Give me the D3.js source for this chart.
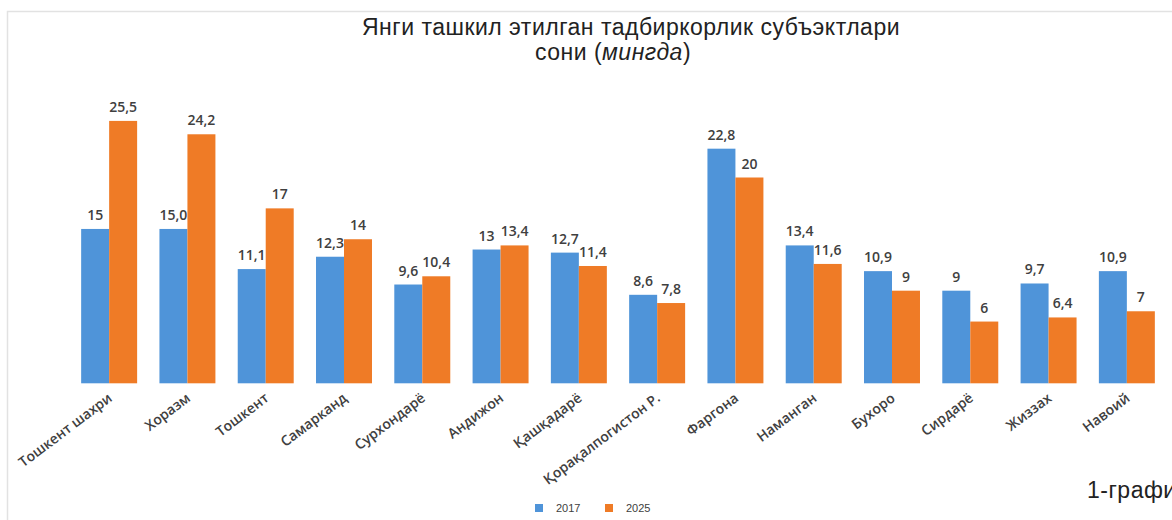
<!DOCTYPE html>
<html><head><meta charset="utf-8">
<script src="https://cdn.jsdelivr.net/npm/d3@7"></script>
<style>html,body{margin:0;padding:0;background:#fff;overflow:hidden}</style>
</head><body><svg id="c" width="1172" height="520"></svg>
<script>
const categories = ["Тошкент шахри","Хоразм","Тошкент","Самарканд","Сурхондарё","Андижон","Қашқадарё","Қорақалпогистон Р.","Фаргона","Наманган","Бухоро","Сирдарё","Жиззах","Навоий"];
const values2017 = [15, 15.0, 11.1, 12.3, 9.6, 13, 12.7, 8.6, 22.8, 13.4, 10.9, 9, 9.7, 10.9];
const values2025 = [25.5, 24.2, 17, 14, 10.4, 13.4, 11.4, 7.8, 20, 11.6, 9, 6, 6.4, 7];
const labels2017 = ["15","15,0","11,1","12,3","9,6","13","12,7","8,6","22,8","13,4","10,9","9","9,7","10,9"];
const labels2025 = ["25,5","24,2","17","14","10,4","13,4","11,4","7,8","20","11,6","9","6","6,4","7"];
const seriesNames = ["2017","2025"];
const colors = ["#4F94D9","#EF7B26"];

const svg = d3.select("#c");
// faint frame
svg.append("path").attr("d","M7.5,520 V11.5 H1172").attr("fill","none").attr("stroke","#e2e2e2").attr("stroke-width",1.5);

const x0 = d3.scaleBand().domain(categories).range([70,1166]).paddingInner(0.285).paddingOuter(0.1425);
const x1 = d3.scaleBand().domain(seriesNames).range([0, x0.bandwidth()]);
const y = d3.scaleLinear().domain([0, 25.5]).range([383.3, 383.3 - 25.5*10.29]);

const series = [values2017, values2025];
const labs = [labels2017, labels2025];
series.forEach((vals, si) => {
  const g = svg.append("g");
  g.selectAll("rect").data(vals).join("rect")
    .attr("x", (d,i) => x0(categories[i]) + x1(seriesNames[si]))
    .attr("y", d => y(d))
    .attr("width", x1.bandwidth())
    .attr("height", d => y(0) - y(d))
    .attr("fill", colors[si]);
  g.selectAll("text").data(vals).join("text")
    .attr("x", (d,i) => x0(categories[i]) + x1(seriesNames[si]) + x1.bandwidth()/2)
    .attr("y", d => y(d) - 9)
    .attr("text-anchor","middle")
    .attr("font-family","'Open Sans', 'Noto Sans', sans-serif")
    .attr("font-size", 14).attr("font-weight", 600)
    .attr("fill","#404040")
    .text((d,i) => labs[si][i]);
});

// x axis labels (rotated)
const xa = svg.append("g");
categories.forEach(c => {
  const cx = x0(c) + x0.bandwidth()/2 + 4;
  xa.append("text")
    .attr("transform", `translate(${cx},400) rotate(-37)`)
    .attr("text-anchor","end")
    .attr("font-family","'Open Sans', 'Noto Sans', sans-serif")
    .attr("font-size", 14).attr("font-weight", 600)
    .attr("fill","#404040")
    .text(c);
});

// title
const tf = "'Liberation Sans', Arial, sans-serif";
svg.append("text").attr("x",631).attr("y",35).attr("text-anchor","middle")
  .attr("font-family",tf).attr("font-size",23).attr("letter-spacing",0.5).attr("fill","#222")
  .text("Янги ташкил этилган тадбиркорлик субъэктлари");
const t2 = svg.append("text").attr("x",613).attr("y",60).attr("text-anchor","middle")
  .attr("font-family",tf).attr("font-size",23).attr("letter-spacing",0.5).attr("fill","#222");
t2.append("tspan").text("сони (");
t2.append("tspan").attr("font-style","italic").text("мингда");
t2.append("tspan").text(")");

// legend
const lg = svg.append("g");
[[535,"2017"],[605,"2025"]].forEach(([lx,name],i) => {
  lg.append("rect").attr("x",lx).attr("y",504).attr("width",8).attr("height",8).attr("fill",colors[i]);
  lg.append("text").attr("x",lx+21).attr("y",512).attr("font-family",tf).attr("font-size",11).attr("fill","#404040").text(name);
});

// figure caption (cut at right edge)
svg.append("text").attr("x",1087).attr("y",498).attr("font-family",tf).attr("font-size",23).attr("letter-spacing",0.5).attr("fill","#222").text("1-график");
</script></body></html>
